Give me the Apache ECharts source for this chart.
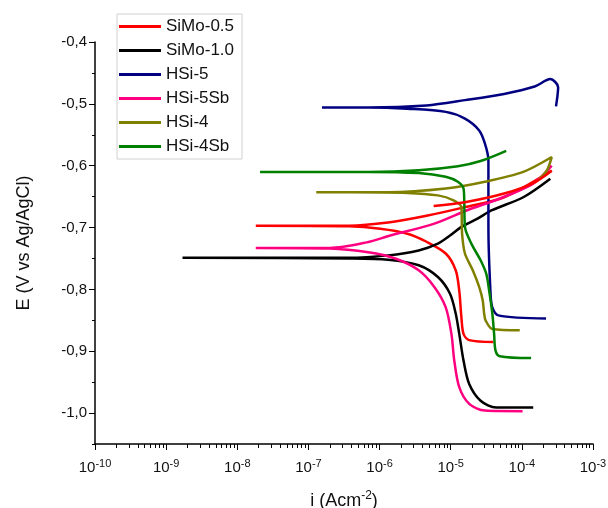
<!DOCTYPE html>
<html>
<head>
<meta charset="utf-8">
<script src="https://cdn.jsdelivr.net/npm/echarts@6/dist/echarts.min.js"></script>
<style>
  html, body { margin: 0; padding: 0; background: #fff; }
  #chart { width: 608px; height: 508px; }
</style>
</head>
<body>
<div id="chart"></div>
<script>
// [log10(i), E] pairs; cathodic end -> Ecorr -> anodic end
var simo05 = [[-4.40,-0.885],[-4.74,-0.882],[-4.82,-0.872],[-4.85,-0.845],[-4.88,-0.802],[-4.93,-0.769],[-5.07,-0.742],[-5.34,-0.723],[-5.61,-0.710],[-5.99,-0.702],[-6.43,-0.698],[-7.74,-0.697],
  [-6.43,-0.697],[-5.88,-0.692],[-5.34,-0.681],[-4.80,-0.667],[-4.25,-0.651],[-3.58,-0.608]];
var simo05b = [[-5.24,-0.665],[-4.80,-0.659],[-4.25,-0.645],[-3.84,-0.628],[-3.58,-0.608]];
var simo10 = [[-3.84,-0.991],[-4.36,-0.991],[-4.58,-0.980],[-4.74,-0.953],[-4.82,-0.915],[-4.88,-0.872],[-4.93,-0.839],[-5.01,-0.807],[-5.18,-0.780],[-5.45,-0.761],[-5.88,-0.752],[-6.43,-0.750],[-8.77,-0.749],
  [-6.43,-0.749],[-5.88,-0.745],[-5.45,-0.737],[-5.18,-0.726],[-5.01,-0.713],[-4.85,-0.699],[-4.63,-0.686],[-4.42,-0.672],[-3.98,-0.651],[-3.60,-0.621]];
var hsi5 = [[-3.66,-0.847],[-4.33,-0.842],[-4.415,-0.829],[-4.44,-0.807],[-4.47,-0.700],[-4.47,-0.591],[-4.52,-0.564],[-4.60,-0.543],[-4.80,-0.524],[-5.07,-0.513],[-5.61,-0.508],[-6.16,-0.506],[-6.81,-0.506],
  [-6.16,-0.506],[-5.34,-0.5025],[-4.80,-0.494],[-4.25,-0.484],[-3.82,-0.472],[-3.60,-0.460],[-3.49,-0.473],[-3.52,-0.504]];
var hsi5sb = [[-3.99,-0.997],[-4.52,-0.996],[-4.74,-0.985],[-4.88,-0.958],[-4.95,-0.915],[-4.99,-0.872],[-5.07,-0.829],[-5.23,-0.796],[-5.45,-0.769],[-5.78,-0.750],[-6.16,-0.740],[-6.70,-0.734],[-7.74,-0.733],
  [-6.70,-0.733],[-6.18,-0.724],[-5.85,-0.713],[-5.24,-0.694],[-4.77,-0.672],[-4.31,-0.653],[-3.84,-0.629],[-3.58,-0.600]];
var hsi4 = [[-4.03,-0.866],[-4.415,-0.864],[-4.51,-0.850],[-4.53,-0.839],[-4.55,-0.818],[-4.60,-0.796],[-4.69,-0.769],[-4.80,-0.742],[-4.84,-0.710],[-4.85,-0.667],[-4.96,-0.656],[-5.18,-0.648],[-5.61,-0.644],[-6.43,-0.643],[-6.89,-0.643],
  [-5.88,-0.643],[-5.07,-0.637],[-4.52,-0.626],[-3.98,-0.610],[-3.58,-0.586],[-3.65,-0.608],[-3.76,-0.622]];
var hsi4sb = [[-3.87,-0.911],[-4.31,-0.908],[-4.37,-0.899],[-4.39,-0.872],[-4.415,-0.839],[-4.46,-0.802],[-4.50,-0.775],[-4.58,-0.753],[-4.71,-0.726],[-4.80,-0.699],[-4.81,-0.656],[-4.82,-0.637],[-4.90,-0.626],[-5.07,-0.618],[-5.45,-0.612],[-6.16,-0.610],[-7.68,-0.610],
  [-6.16,-0.610],[-5.45,-0.6075],[-4.90,-0.601],[-4.58,-0.5925],[-4.22,-0.576]];

var names = ['SiMo-0.5', 'SiMo-1.0', 'HSi-5', 'HSi-5Sb', 'HSi-4', 'HSi-4Sb'];
var colors = ['#ff0000', '#000000', '#000080', '#ff0080', '#808000', '#008000'];
var curves = [simo05, simo10, hsi5, hsi5sb, hsi4, hsi4sb];

// tick positions
var eMajor = [-1.0, -0.9, -0.8, -0.7, -0.6, -0.5, -0.4];
var eMinor = [-1.05, -0.95, -0.85, -0.75, -0.65, -0.55, -0.45];
var decades = [-10, -9, -8, -7, -6, -5, -4];
var iMinor = [];
decades.forEach(function (d) {
  for (var m = 2; m <= 9; m++) iMinor.push(m * Math.pow(10, d));
});

function toCurrent(arr) {
  return arr.map(function (p) { return [Math.pow(10, p[0]), p[1]]; });
}

function makeSeries(name, color, arr) {
  return {
    name: name,
    type: 'line',
    data: toCurrent(arr),
    smooth: 0.3,
    showSymbol: false,
    symbol: 'none',
    lineStyle: { color: color, width: 2.5 },
    itemStyle: { color: color },
    z: 3
  };
}

var series = [];
for (var k = 0; k < names.length; k++) {
  series.push(makeSeries(names[k], colors[k], curves[k]));
}
series.push(makeSeries('SiMo-0.5', colors[0], simo05b));

var chart = echarts.init(document.getElementById('chart'));
chart.setOption({
  animation: false,
  textStyle: { fontFamily: 'Liberation Sans, Arial, sans-serif' },
  grid: { left: 95, right: 15, top: 42, bottom: 64, containLabel: false, outerBoundsMode: 'none' },
  legend: {
    data: names,
    orient: 'vertical',
    left: 117,
    top: 14,
    icon: 'rect',
    itemWidth: 42,
    itemHeight: 3,
    itemGap: 7,
    padding: [4, 8, 4, 2],
    borderColor: '#d0d0d0',
    borderWidth: 1,
    backgroundColor: '#fff',
    textStyle: { fontSize: 17, color: '#111' }
  },
  xAxis: [{
    type: 'log',
    logBase: 10,
    min: 1e-10,
    max: 1e-3,
    name: 'i (Acm{sup|-2})',
    nameLocation: 'middle',
    nameGap: 46,
    nameTextStyle: {
      fontSize: 18, color: '#111',
      rich: { sup: { fontSize: 12, verticalAlign: 'top', padding: [0, 0, 10, 0], color: '#111' } }
    },
    axisLine: { lineStyle: { color: '#000', width: 1.5 } },
    axisTick: { show: true, inside: false, length: 6, lineStyle: { color: '#000' } },
    splitLine: { show: false },
    axisLabel: {
      color: '#111',
      fontSize: 15,
      margin: 14,
      formatter: function (v) {
        var e = Math.round(Math.log(v) / Math.LN10);
        return '{b|10}{s|' + e + '}';
      },
      rich: {
        b: { fontSize: 15, color: '#111' },
        s: { fontSize: 11, color: '#111', verticalAlign: 'top', padding: [0, 0, 8, 0] }
      }
    }
  }, {
    type: 'log',
    logBase: 10,
    min: 1e-10,
    max: 1e-3,
    position: 'bottom',
    axisLine: { show: false },
    axisLabel: { show: false },
    splitLine: { show: false },
    axisTick: { show: true, inside: false, length: 4, customValues: iMinor, lineStyle: { color: '#000' } }
  }],
  yAxis: [{
    type: 'value',
    min: -1.05,
    max: -0.4,
    interval: 0.05,
    name: 'E (V vs Ag/AgCl)',
    nameLocation: 'middle',
    nameGap: 62,
    nameRotate: 90,
    nameTextStyle: { fontSize: 18, color: '#111' },
    axisLine: { show: true, lineStyle: { color: '#000', width: 1.5 } },
    axisTick: { show: true, inside: false, length: 6, customValues: eMajor, lineStyle: { color: '#000' } },
    splitLine: { show: false },
    axisLabel: {
      color: '#111',
      fontSize: 15,
      margin: 8,
      customValues: eMajor,
      formatter: function (v) {
        return v.toFixed(1).replace('.', ',');
      }
    }
  }, {
    type: 'value',
    min: -1.05,
    max: -0.4,
    position: 'left',
    axisLine: { show: false },
    axisLabel: { show: false },
    splitLine: { show: false },
    axisTick: { show: true, inside: false, length: 3, customValues: eMinor, lineStyle: { color: '#000' } }
  }],
  series: series
});
</script>
</body>
</html>
